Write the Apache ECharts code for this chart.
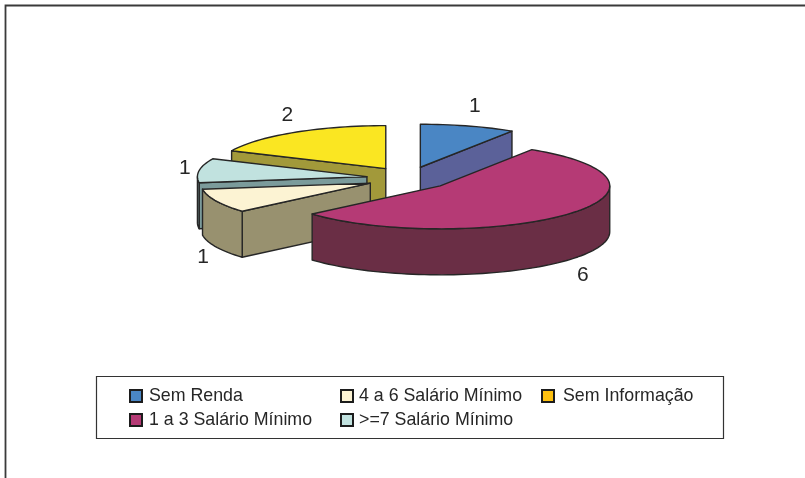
<!DOCTYPE html>
<html>
<head>
<meta charset="utf-8">
<style>html,body{margin:0;padding:0;background:#fff}#c{width:805px;height:478px}</style>
<script src="https://cdn.jsdelivr.net/npm/echarts@6/dist/echarts.min.js"></script>
</head>
<body>
<div id="c"></div>
<script>
// Data
var categories = ['Sem Renda', '1 a 3 Salário Mínimo', '4 a 6 Salário Mínimo', '>=7 Salário Mínimo', 'Sem Informação'];
var values = [1, 6, 1, 1, 2];

// Styles
var topColors = ['#4a86c4', '#b53a75', '#fcf3d3', '#c1e2df', '#fae622'];
var sideColors = ['#5b6199', '#6a2e45', '#98916f', '#7b9b9b', '#a2993a'];
var legendColors = ['#4a86c4', '#b53a75', '#fcf3d3', '#c1e2df', '#fdc010'];
var drawOrder = [0, 4, 3, 2, 1];
var legendSlots = [[129, 387, 2], [129, 411, 2], [340, 387, 1], [340, 411, 1], [541, 387, 4]];

// 3D pie projection
var CX = 408.5, CY = 178.3, RX = 169.5, RY = 43, DEPTH = 46, EXPLODE_X = 42, EXPLODE_Y = 11.5;
var LABEL_RX = 186, LABEL_RY = 65, LABEL_SHIFT = 2;
var INK = '#262626';
var total = values.reduce(function (a, b) { return a + b; }, 0);
function rad(d) { return d * Math.PI / 180; }
function startAngle(i) {
  var s = 0;
  for (var k = 0; k < i; k++) s += values[k];
  return s / total * 360;
}
function renderSlice(i, api) {
  var value = api.value(0);
  var a0 = startAngle(i), a1 = a0 + value / total * 360, mid = (a0 + a1) / 2;
  var ax = CX + EXPLODE_X * Math.sin(rad(mid));
  var ay = CY - EXPLODE_Y * Math.cos(rad(mid));
  function rim(a, dz) {
    return [ax + RX * Math.sin(rad(a)), ay - RY * Math.cos(rad(a)) + (dz || 0)];
  }
  function arc(from, to, dz) {
    var pts = [], n = Math.max(2, Math.ceil(Math.abs(to - from) / 2));
    for (var k = 0; k <= n; k++) pts.push(rim(from + (to - from) * k / n, dz));
    return pts;
  }
  function poly(points, fill) {
    return {
      type: 'polygon',
      shape: { points: points },
      style: { fill: fill, stroke: INK, lineWidth: 1.4, lineJoin: 'round' }
    };
  }
  var children = [];
  // cut faces visible to the viewer
  function face(a) {
    var r = rim(a), b = rim(a, DEPTH);
    children.push(poly([[ax, ay], r, b, [ax, ay + DEPTH]], sideColors[i]));
  }
  if (Math.sin(rad(a1)) > 0.001) face(a1);
  if (Math.sin(rad(a0)) < -0.001) face(a0);
  // outer wall
  var w0 = Math.max(a0, 90), w1 = Math.min(a1, 270);
  if (w1 > w0) {
    children.push(poly(arc(w0, w1, 0).concat(arc(w1, w0, DEPTH)), sideColors[i]));
  }
  // top
  children.push(poly([[ax, ay]].concat(arc(a0, a1, 0)), topColors[i]));
  // value label
  var c = Math.cos(rad(mid));
  children.push({
    type: 'text',
    style: {
      text: String(value),
      x: ax + LABEL_SHIFT + LABEL_RX * Math.sin(rad(mid)),
      y: ay - LABEL_RY * c + (c < 0 ? DEPTH : 0) + 1,
      fill: INK,
      font: '21px "Liberation Sans", Arial, sans-serif',
      align: 'center',
      verticalAlign: 'middle'
    }
  });
  return { type: 'group', children: children };
}

var series = categories.map(function (name, i) {
  return {
    type: 'custom',
    name: name,
    coordinateSystem: 'none',
    silent: true,
    z: 2 + drawOrder.indexOf(i),
    itemStyle: { color: topColors[i] },
    data: [[values[i]]],
    renderItem: function (params, api) { return renderSlice(i, api); }
  };
});

var legends = categories.map(function (name, i) {
  return {
    left: legendSlots[i][0],
    top: legendSlots[i][1],
    padding: 0,
    selectedMode: false,
    itemWidth: 12,
    itemHeight: 12,
    icon: 'rect',
    z: 10,
    textStyle: {
      color: INK,
      fontFamily: '"Liberation Sans", Arial, sans-serif',
      fontSize: 17.8,
      padding: [0, 0, 0, legendSlots[i][2]]
    },
    itemStyle: { borderColor: '#1c1c1c', borderWidth: 2 },
    data: [{ name: name, itemStyle: { color: legendColors[i], borderColor: '#1c1c1c', borderWidth: 2 } }]
  };
});

var chart = echarts.init(document.getElementById('c'), null, { renderer: 'canvas' });
chart.setOption({
  animation: false,
  backgroundColor: '#ffffff',
  legend: legends,
  series: series,
  graphic: [
    { type: 'polyline', z: 1, shape: { points: [[5.5, 478], [5.5, 5.5], [805, 5.5]] }, style: { stroke: '#3a3a3a', lineWidth: 1.8, fill: null } },
    { type: 'rect', z: 1, shape: { x: 96.5, y: 376.5, width: 627, height: 62 }, style: { fill: '#fff', stroke: '#333', lineWidth: 1.2 } }
  ]
});
</script>
</body>
</html>
